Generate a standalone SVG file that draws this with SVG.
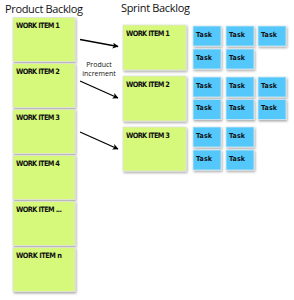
<svg xmlns="http://www.w3.org/2000/svg" width="294" height="300" viewBox="0 0 294 300">
<defs>
<filter id="sh" x="-20%" y="-20%" width="150%" height="150%">
<feDropShadow dx="1" dy="1.5" stdDeviation="1.2" flood-color="#000" flood-opacity="0.35"/>
</filter>
<marker id="ah" viewBox="0 0 10 10" refX="9" refY="5" markerWidth="6" markerHeight="6" orient="auto" markerUnits="userSpaceOnUse">
<path d="M0,0 L10,5 L0,10 L2.5,5 z" fill="#000"/>
</marker>
<style>
.wi{fill:#d6f97c;stroke:#e2e2d8;stroke-width:0.8;filter:url(#sh)}
.tk{fill:#55c8fb;stroke:#cfe6f0;stroke-width:0.8;filter:url(#sh)}
.wt{font-family:"DejaVu Sans Condensed","DejaVu Sans",sans-serif;font-weight:bold;font-size:7.4px;fill:#111}
.tt{font-family:"DejaVu Sans Condensed","DejaVu Sans",sans-serif;font-weight:bold;font-size:7px;fill:#111}
.hd{font-family:"Open Sans","DejaVu Sans",sans-serif;font-size:11px;fill:#111}
.lb{font-family:"Open Sans","DejaVu Sans",sans-serif;font-size:7px;fill:#111;text-anchor:middle}
.cn{stroke:#000;stroke-width:1.3;fill:none;marker-end:url(#ah)}
</style>
</defs>
<rect width="294" height="300" fill="#fff"/>
<text class="hd" x="5" y="13" textLength="78">Product Backlog</text>
<text class="hd" x="121" y="12" textLength="69">Sprint Backlog</text>
<g id="product-backlog">
<g id="pb1"><rect class="wi" x="13" y="17.5" width="62" height="44"/><text class="wt" x="16" y="27.5" textLength="44">WORK ITEM 1</text></g>
<g id="pb2"><rect class="wi" x="13" y="63.5" width="62" height="44"/><text class="wt" x="16" y="74" textLength="44">WORK ITEM 2</text></g>
<g id="pb3"><rect class="wi" x="13" y="109.5" width="62" height="44"/><text class="wt" x="16" y="120" textLength="44">WORK ITEM 3</text></g>
<g id="pb4"><rect class="wi" x="13" y="155.5" width="62" height="44"/><text class="wt" x="16" y="165.5" textLength="44">WORK ITEM 4</text></g>
<g id="pb5"><rect class="wi" x="13" y="201.5" width="62" height="44"/><text class="wt" x="16" y="211.5" textLength="46">WORK ITEM ...</text></g>
<g id="pb6"><rect class="wi" x="13" y="247.5" width="62" height="44"/><text class="wt" x="16" y="257.5" textLength="46">WORK ITEM n</text></g>
</g>
<g id="sprint-backlog">
<g id="sb1"><rect class="wi" x="123" y="25" width="63" height="45"/><text class="wt" x="126" y="35.5" textLength="44">WORK ITEM 1</text></g>
<g id="sb2"><rect class="wi" x="123" y="76" width="63" height="45"/><text class="wt" x="126" y="86.5" textLength="44">WORK ITEM 2</text></g>
<g id="sb3"><rect class="wi" x="123" y="127" width="63" height="44"/><text class="wt" x="126" y="137.5" textLength="44">WORK ITEM 3</text></g>
</g>
<g id="tasks">
<g id="t1a"><rect class="tk" x="193" y="26" width="28" height="20"/><text class="tt" x="196" y="36.5" textLength="16">Task</text></g>
<g id="t1b"><rect class="tk" x="226" y="26" width="28" height="20"/><text class="tt" x="229" y="36.5" textLength="16">Task</text></g>
<g id="t1c"><rect class="tk" x="258" y="26" width="28" height="20"/><text class="tt" x="261" y="36.5" textLength="16">Task</text></g>
<g id="t1d"><rect class="tk" x="193" y="49" width="28" height="20"/><text class="tt" x="196" y="59.5" textLength="16">Task</text></g>
<g id="t1e"><rect class="tk" x="226" y="49" width="28" height="20"/><text class="tt" x="229" y="59.5" textLength="16">Task</text></g>
<g id="t2a"><rect class="tk" x="193" y="77" width="28" height="20"/><text class="tt" x="196" y="87.5" textLength="16">Task</text></g>
<g id="t2b"><rect class="tk" x="226" y="77" width="28" height="20"/><text class="tt" x="229" y="87.5" textLength="16">Task</text></g>
<g id="t2c"><rect class="tk" x="258" y="77" width="28" height="20"/><text class="tt" x="261" y="87.5" textLength="16">Task</text></g>
<g id="t2d"><rect class="tk" x="193" y="99.5" width="28" height="20"/><text class="tt" x="196" y="110" textLength="16">Task</text></g>
<g id="t2e"><rect class="tk" x="226" y="99.5" width="28" height="20"/><text class="tt" x="229" y="110" textLength="16">Task</text></g>
<g id="t2f"><rect class="tk" x="258" y="99.5" width="28" height="20"/><text class="tt" x="261" y="110" textLength="16">Task</text></g>
<g id="t3a"><rect class="tk" x="193" y="127" width="28" height="20"/><text class="tt" x="196" y="137.5" textLength="16">Task</text></g>
<g id="t3b"><rect class="tk" x="226" y="127" width="28" height="20"/><text class="tt" x="229" y="137.5" textLength="16">Task</text></g>
<g id="t3c"><rect class="tk" x="193" y="150" width="28" height="20"/><text class="tt" x="196" y="160.5" textLength="16">Task</text></g>
<g id="t3d"><rect class="tk" x="226" y="150" width="28" height="20"/><text class="tt" x="229" y="160.5" textLength="16">Task</text></g>
</g>
<g id="connectors">
<line class="cn" x1="80" y1="39.5" x2="118" y2="46.5"/>
<line class="cn" x1="80" y1="81" x2="118" y2="98"/>
<line class="cn" x1="80" y1="132" x2="118" y2="149"/>
</g>
<text class="lb" x="99" y="67">Product</text>
<text class="lb" x="99" y="76">increment</text>
</svg>
